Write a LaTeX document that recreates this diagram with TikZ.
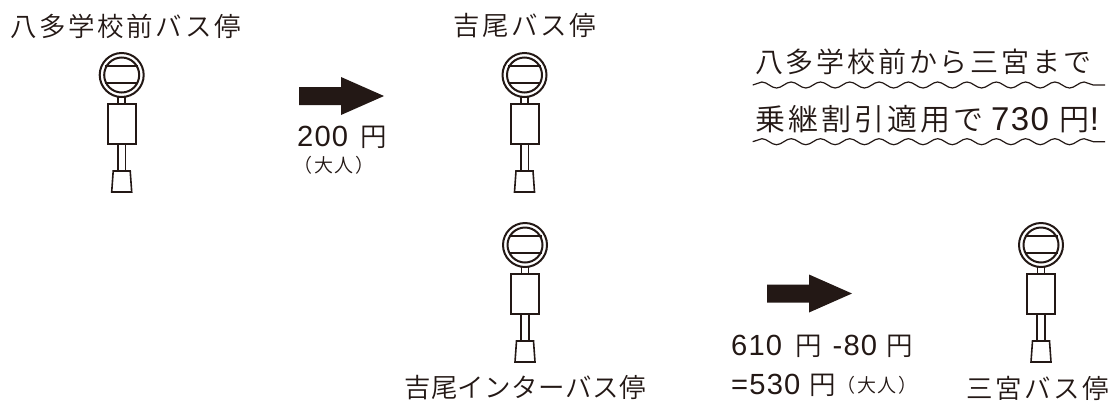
\documentclass[tikz,border=0pt]{standalone}
\usepackage{fontspec}
\usepackage{xcolor}
\setmainfont{Noto Sans CJK JP}[UprightFont=* DemiLight,LetterSpace=10]
\newfontfamily\latfont{Liberation Sans}[Scale=1.1,LetterSpace=4]
\usetikzlibrary{decorations.pathmorphing}
\definecolor{stopink}{RGB}{35,24,21}
\tikzset{
  txt/.style={anchor=west,inner sep=0pt,text=stopink,font=\fontsize{26.5}{26.5}\selectfont},
  bigtxt/.style={txt,font=\fontsize{28}{28}\selectfont},
  hugetxt/.style={txt,font=\fontsize{30}{30}\selectfont},
  smalltxt/.style={txt,font=\fontsize{19}{19}\selectfont},
  wavy/.style={stopink,line width=1.2pt,decorate,decoration={snake,segment length=29.3pt,amplitude=3pt}},
  pics/busstop/.style={code={
    \draw[stopink,line width=2pt] (0,0) circle (22);
    \draw[stopink,line width=2pt] (0,0) circle (17.5);
    \draw[stopink,line width=2pt] (-16.5,-9) -- (16.5,-9);
    \draw[stopink,line width=2pt] (-16.5,8) -- (16.5,8);
    \draw[stopink,line width=1.6pt] (-3.5,22) -- (-3.5,29) (3.5,22) -- (3.5,29);
    \draw[stopink,line width=2pt] (-14,29) rectangle (14,69);
    \draw[stopink,line width=1.6pt] (-3.8,69) -- (-3.8,96) (3.8,69) -- (3.8,96);
    \draw[stopink,line width=1.6pt] (-8.5,96) -- (8.5,96) -- (10,117) -- (-10,117) -- cycle;
  }},
  pics/bigarrow/.style={code={
    \fill[stopink] (0,-9) -- (42,-9) -- (42,-19) -- (85,0) -- (42,19) -- (42,9) -- (0,9) -- cycle;
  }}
}
\begin{document}
\begin{tikzpicture}[x=1pt,y=-1pt]
\useasboundingbox (0,0) rectangle (1115,400);
\pic at (121.7,75) {busstop};
\pic at (524.5,75) {busstop};
\pic at (525,245) {busstop};
\pic at (1041,245) {busstop};
\pic at (299,96) {bigarrow};
\pic at (767,293.5) {bigarrow};
% Labels
\node[txt] (hata) at (10,26) {八多学校前バス停};
\node[txt] (yoshio) at (453,26) {吉尾バス停};
\node[txt] (inter) at (404,388) {\addfontfeature{LetterSpace=1.5}吉尾インターバス停};
\node[txt] (sannomiya) at (966,388) {三宮バス停};
\node[bigtxt] (hdline) at (755,62) {八多学校前から三宮まで};
\node[hugetxt] (hdlinetwo) at (755,119.5) {乗継割引適用で\hspace{8pt}{\latfont 730}\hspace{11pt}円{\latfont !}};
\node[txt] (fare) at (297,137) {{\latfont 200}\hspace{12pt}円};
\node[smalltxt] (adult) at (293,165) {（大人）};
\node[txt] (farea) at (731,346) {{\latfont 610}\hspace{13pt}円\hspace{11pt}{\latfont -80}\hspace{9pt}円};
\node[txt] (fareb) at (731,385) {{\latfont =530}\hspace{9pt}円};
\node[smalltxt] (adultb) at (836,385) {（大人）};
% Wavy rules
\coordinate (wavea) at (752.7,85);
\coordinate (waveaend) at (1105,85);
\coordinate (waveb) at (752.7,141.7);
\coordinate (wavebend) at (1105,141.7);
\draw[wavy] (wavea) -- (waveaend);
\draw[wavy] (waveb) -- (wavebend);
\end{tikzpicture}
\end{document}
